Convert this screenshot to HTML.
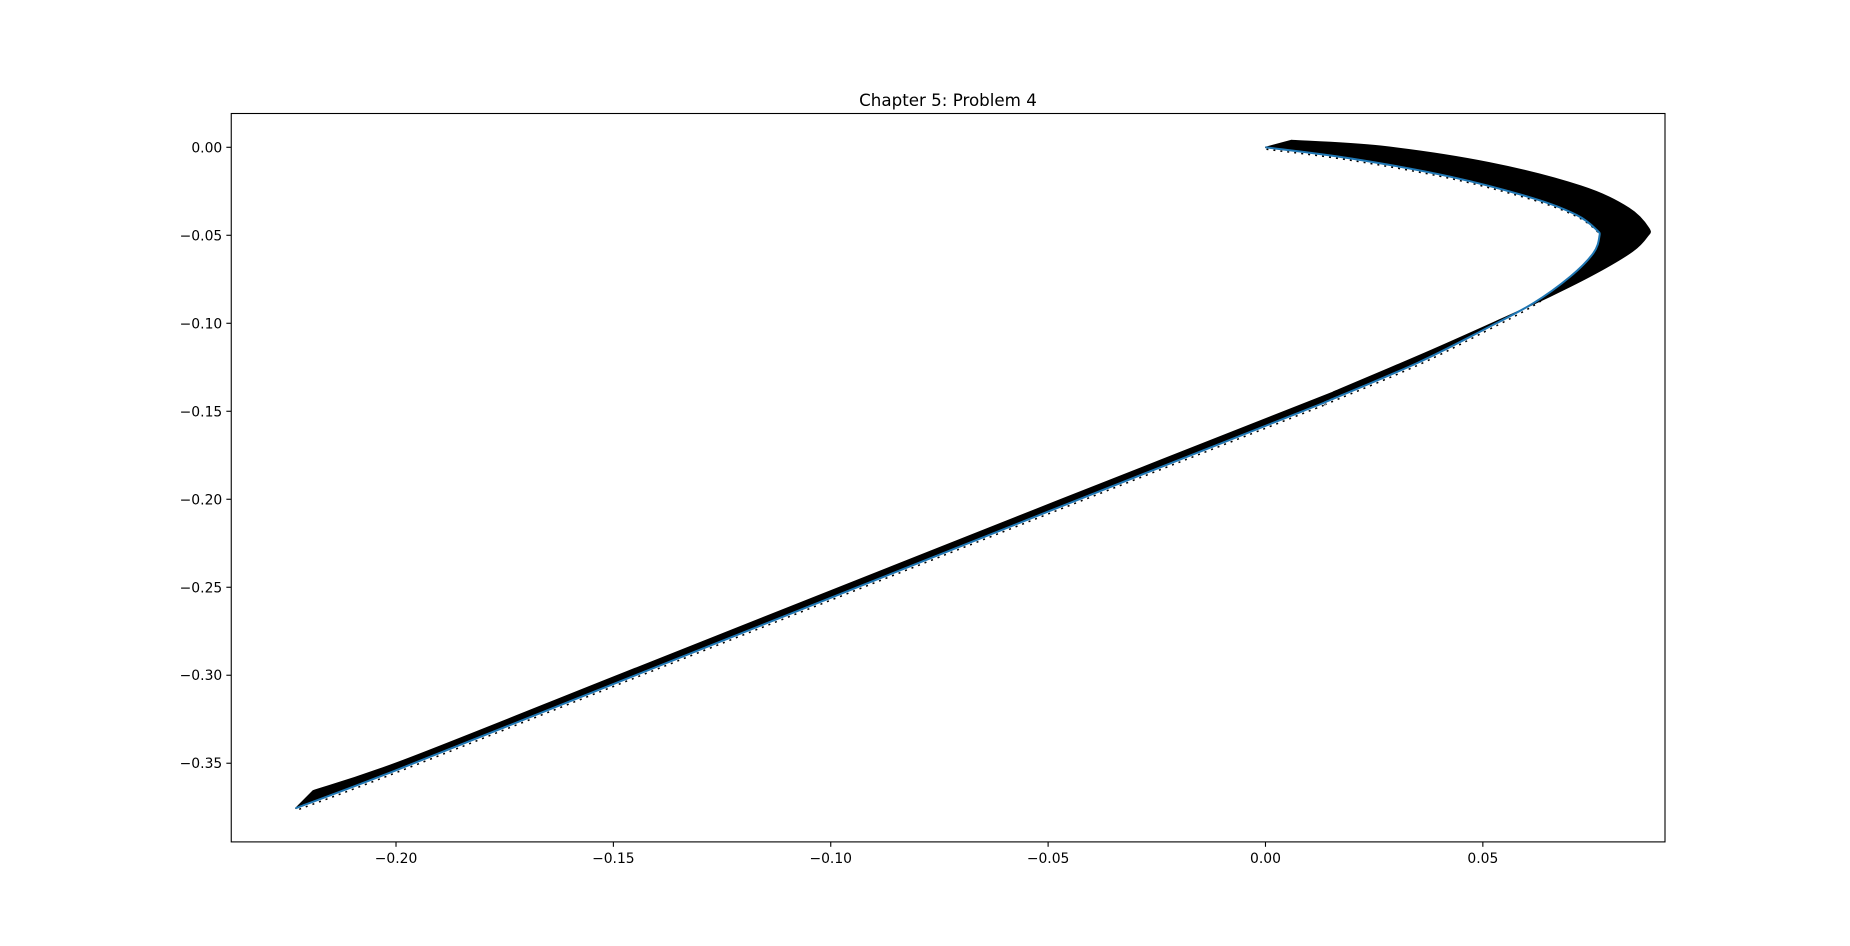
<!DOCTYPE html>
<html><head><meta charset="utf-8"><style>
html,body{margin:0;padding:0;background:#fff;}
svg{display:block;font-family:"DejaVu Sans","Liberation Sans",sans-serif;}
</style></head><body>
<svg id="chart" width="1850" height="946" viewBox="0 0 1850 946" xmlns="http://www.w3.org/2000/svg">
<rect x="0" y="0" width="1850" height="946" fill="#fff"/>
<text x="948" y="106" font-size="16.7" text-anchor="middle" fill="#000">Chapter 5: Problem 4</text>
<g id="plot"></g>
<g id="axes"></g>
</svg>
<script>
const curveX = [0, 0.0195, 0.0425, 0.0616, 0.0716, 0.0762, 0.0768, 0.0754, 0.0701, 0.0616, 0.0501, 0.0348, 0.0149, 0.008, -0.05, -0.1, -0.15, -0.2, -0.2231];
const curveY = [0, -0.0063, -0.0167, -0.029, -0.0385, -0.047, -0.0508, -0.0602, -0.0735, -0.0886, -0.1038, -0.1227, -0.1436, -0.1505, -0.207, -0.256, -0.305, -0.354, -0.3756];
const arrowU = [0.006, 0.007, 0.009, 0.011, 0.012, 0.012, 0.011, 0.009, 0.006, 0.004, 0.003, 0.002, 0.002, 0.002, 0.002, 0.002, 0.002, 0.002, 0.004];
const arrowV = [0.004, 0.007, 0.008, 0.007, 0.004, 0.001, 0.000, 0.001, 0.002, 0.004, 0.005, 0.006, 0.006, 0.006, 0.006, 0.006, 0.006, 0.006, 0.010];
const xTicks = [-0.20, -0.15, -0.10, -0.05, 0.00, 0.05];
const xTickLabels = ["\u22120.20", "\u22120.15", "\u22120.10", "\u22120.05", "0.00", "0.05"];
const yTicks = [0.00, -0.05, -0.10, -0.15, -0.20, -0.25, -0.30, -0.35];
const yTickLabels = ["0.00", "\u22120.05", "\u22120.10", "\u22120.15", "\u22120.20", "\u22120.25", "\u22120.30", "\u22120.35"];

const L = 231.25, R = 1665, T = 113.5, B = 841.9;
const xMin = -0.2379, xMax = 0.0919, yMin = -0.3947, yMax = 0.0192;
function sx(v){ return L + (v - xMin) / (xMax - xMin) * (R - L); }
function sy(v){ return B - (v - yMin) / (yMax - yMin) * (B - T); }
const NS = "http://www.w3.org/2000/svg";
function mk(tag, attrs, parent){
  const e = document.createElementNS(NS, tag);
  for (const k in attrs) e.setAttribute(k, attrs[k]);
  parent.appendChild(e);
  return e;
}
function smooth(P){
  let d = 'M' + P[0][0] + ' ' + P[0][1];
  for (let i = 0; i < P.length - 1; i++) {
    const p0 = P[Math.max(0, i - 1)], p1 = P[i], p2 = P[i + 1], p3 = P[Math.min(P.length - 1, i + 2)];
    const c1x = p1[0] + (p2[0] - p0[0]) / 6, c1y = p1[1] + (p2[1] - p0[1]) / 6;
    const c2x = p2[0] - (p3[0] - p1[0]) / 6, c2y = p2[1] - (p3[1] - p1[1]) / 6;
    d += ' C' + c1x + ' ' + c1y + ' ' + c2x + ' ' + c2y + ' ' + p2[0] + ' ' + p2[1];
  }
  return d;
}
const plot = document.getElementById('plot');
const axes = document.getElementById('axes');

const base = curveX.map((v, i) => [sx(v), sy(curveY[i])]);
const tips = curveX.map((v, i) => [sx(v + arrowU[i]), sy(curveY[i] + arrowV[i])]);

// arrow band (quiver)
let bd = smooth(base) + ' L' + tips[tips.length - 1][0] + ' ' + tips[tips.length - 1][1];
const rt = tips.slice().reverse();
bd += smooth(rt).replace(/^M[^C]*/, '') + ' Z';
const band = mk('path', {d: bd, fill: '#000', stroke: '#000', 'stroke-width': 1, 'stroke-linejoin': 'round'}, plot);



// sawtooth under-edge
const sawPts = base.map(p => [p[0] + 1, p[1] + 2]);
const saw = mk('path', {d: smooth(sawPts), fill: 'none', stroke: '#000', 'stroke-width': 1.5, 'stroke-dasharray': '2 5'}, plot);



// trajectory line
const line = mk('path', {d: smooth(base), fill: 'none', stroke: '#1f77b4', 'stroke-width': 2, 'stroke-linejoin': 'round'}, plot);



// frame
const frame = mk('rect', {x: L, y: T, width: R - L, height: B - T, fill: 'none', stroke: '#000', 'stroke-width': 1.1}, axes);



xTicks.forEach((v, i) => {
  const x = sx(v);
  const t = mk('line', {x1: x, x2: x, y1: B, y2: B + 4.9, stroke: '#000', 'stroke-width': 1.1}, axes);
  
  
  const lb = mk('text', {x: x, y: B + 21, 'font-size': 13.9, 'text-anchor': 'middle', fill: '#000'}, axes);
  lb.textContent = xTickLabels[i];
  
  
});
yTicks.forEach((v, i) => {
  const y = sy(v);
  const t = mk('line', {x1: L - 4.9, x2: L, y1: y, y2: y, stroke: '#000', 'stroke-width': 1.1}, axes);
  
  
  const lb = mk('text', {x: L - 9, y: y + 5, 'font-size': 13.9, 'text-anchor': 'end', fill: '#000'}, axes);
  lb.textContent = yTickLabels[i];
  
  
});
</script>
</body></html>
